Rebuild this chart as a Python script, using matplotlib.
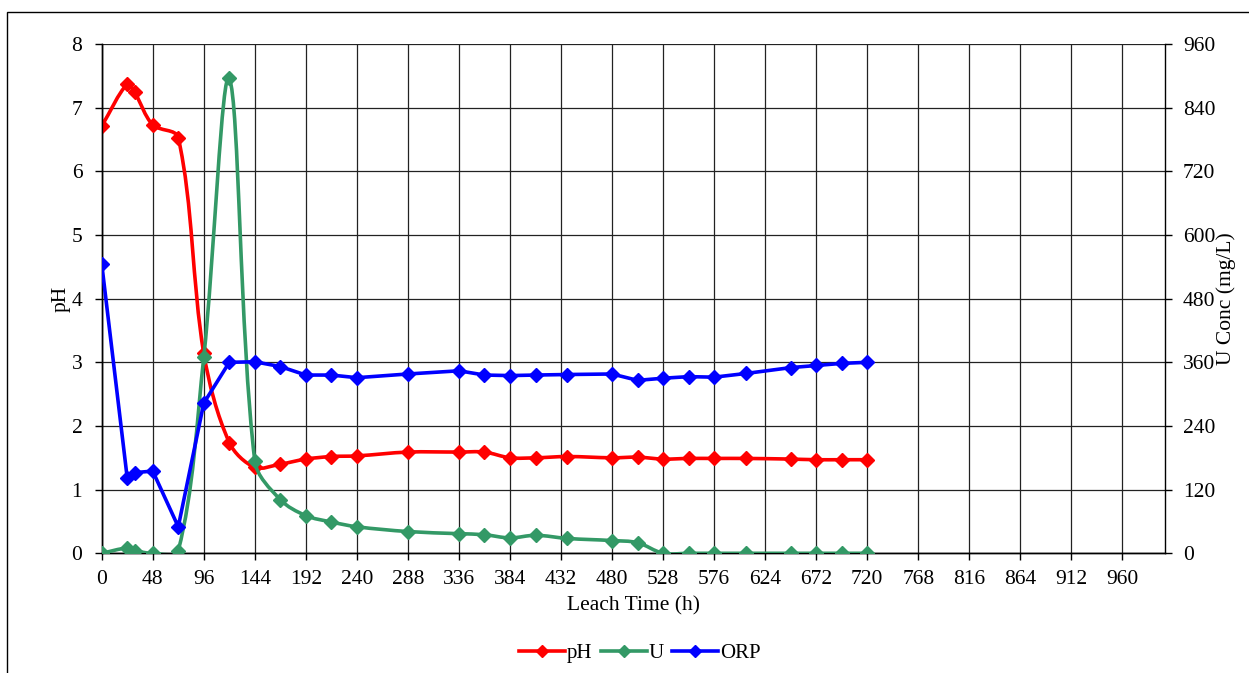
import numpy as np
import matplotlib
matplotlib.use("Agg")
import matplotlib.pyplot as plt
from matplotlib.path import Path
from matplotlib.patches import PathPatch, Rectangle
from matplotlib.lines import Line2D

plt.rcParams['font.family'] = ['Liberation Serif', 'DejaVu Serif']

# 시간 (h)
hours = [0, 24, 31, 48, 72, 96, 120, 144, 168, 192, 216, 240, 288, 336, 360, 384,
         408, 438, 480, 504, 528, 552, 576, 606, 648, 672, 696, 720]
# pH (left axis)
ph = [6.71, 7.37, 7.24, 6.73, 6.53, 3.14, 1.74, 1.35, 1.40, 1.48, 1.52, 1.53, 1.59, 1.59,
      1.59, 1.50, 1.50, 1.52, 1.50, 1.51, 1.48, 1.49, 1.49, 1.49, 1.48, 1.47, 1.47, 1.47]
# U conc (mg/L, right axis)
u_conc = [0, 10, 5, 0, 5, 370, 895, 174, 101, 71, 59, 50, 41, 37, 35, 29,
          34, 28, 24, 20, 0, 0, 0, 0, 0, 0, 0, 0]
# ORP (right axis scale)
orp = [546, 142, 152, 155, 50, 283, 360, 361, 352, 336, 336, 331, 338, 344, 336, 335,
       336, 337, 338, 326, 330, 333, 332, 339, 350, 354, 358, 360]

x_ticks = list(range(0, 961, 48))
ph_ticks = list(range(0, 9))
u_ticks = list(range(0, 961, 120))

RED = '#FF0000'
GREEN = '#339966'
BLUE = '#0000FF'
FS = 15.5


def smooth_path(a, xs, ys):
    # Excel 스타일 부드러운 선: 화면 좌표에서 베지어 제어점 계산
    tr = a.transData
    pts = tr.transform(np.column_stack([xs, ys]).astype(float))
    n = len(pts)
    verts = [pts[0]]
    codes = [Path.MOVETO]
    f = 1.0 / 3.0
    for i in range(n - 1):
        p0 = pts[i - 1] if i > 0 else pts[i]
        p1 = pts[i]
        p2 = pts[i + 1]
        p3 = pts[i + 2] if i + 2 < n else pts[i + 1]
        d01 = np.hypot(*(p1 - p0))
        d12 = np.hypot(*(p2 - p1))
        d23 = np.hypot(*(p3 - p2))
        k1 = d12 / (d01 + d12) if d01 + d12 > 0 else 0
        k2 = d12 / (d12 + d23) if d12 + d23 > 0 else 0
        c1 = p1 + (p2 - p0) * f * k1
        c2 = p2 - (p3 - p1) * f * k2
        verts += [c1, c2, p2]
        codes += [Path.CURVE4] * 3
    verts = tr.inverted().transform(np.array(verts))
    return Path(verts, codes)


fig = plt.figure(figsize=(12.49, 6.73), dpi=100)
fig.patches.append(Rectangle((7 / 1249, -0.1), 1.2, 1 - 12 / 673 + 0.1, transform=fig.transFigure,
                             fill=False, edgecolor='black', linewidth=1.0))

ax = fig.add_axes([101.7 / 1249, 1 - 553.3 / 673, (1165 - 101.7) / 1249, (553.3 - 44) / 673])
ax2 = ax.twinx()

ax.set_xlim(0, 1000)
ax.set_ylim(0, 8)
ax2.set_ylim(0, 960)

ax.set_xticks(x_ticks)
ax.set_yticks(ph_ticks)
ax2.set_yticks(u_ticks)
ax.grid(True, color='#222222', linewidth=0.9)
ax.set_axisbelow(True)

lw = 2.6
ms = 7.5

ax.add_patch(PathPatch(smooth_path(ax, hours, ph), fill=False, edgecolor=RED, linewidth=lw, zorder=3))
ax.plot(hours, ph, linestyle='none', marker='D', color=RED, markersize=ms, zorder=4)

ax2.add_patch(PathPatch(smooth_path(ax2, hours, u_conc), fill=False, edgecolor=GREEN, linewidth=lw, zorder=3))
ax2.plot(hours, u_conc, linestyle='none', marker='D', color=GREEN, markersize=ms, zorder=4)
ax2.plot(hours, orp, color=BLUE, linewidth=lw, marker='D', markersize=ms, zorder=5)

for a in (ax, ax2):
    for s in a.spines.values():
        s.set_color('black')
        s.set_linewidth(1.0)
    a.spines['top'].set_visible(False)
ax.spines['right'].set_visible(False)

ax.tick_params(axis='x', direction='out', length=5, width=1, labelsize=FS, pad=7)
ax.tick_params(axis='y', direction='out', length=5, width=1, labelsize=FS, pad=9)
ax2.tick_params(axis='y', direction='out', length=5, width=1, labelsize=FS, pad=8)

ax.set_xlabel('Leach Time (h)', fontsize=FS, va='center')
ax.xaxis.set_label_coords(0.5, -(606 - 553.3) / 509.3)
ax.set_ylabel('pH', fontsize=FS, va='center')
ax.yaxis.set_label_coords(-(101.7 - 61) / 1063.3, 0.5)
ax2.set_ylabel('U Conc (mg/L)', fontsize=FS, rotation=90, va='center')
ax2.yaxis.set_label_coords((1226 - 101.7) / 1063.3, 0.5)

handles = [Line2D([], [], color=c, linewidth=lw, marker='D', markersize=6) for c in (RED, GREEN, BLUE)]
fig.legend(handles, ['pH', 'U', 'ORP'], loc='center', bbox_to_anchor=(640 / 1249, 1 - 653 / 673),
           ncol=3, frameon=False, fontsize=15, handlelength=2.2, handletextpad=0.1,
           columnspacing=0.4)

fig.savefig('out.png', dpi=100)
